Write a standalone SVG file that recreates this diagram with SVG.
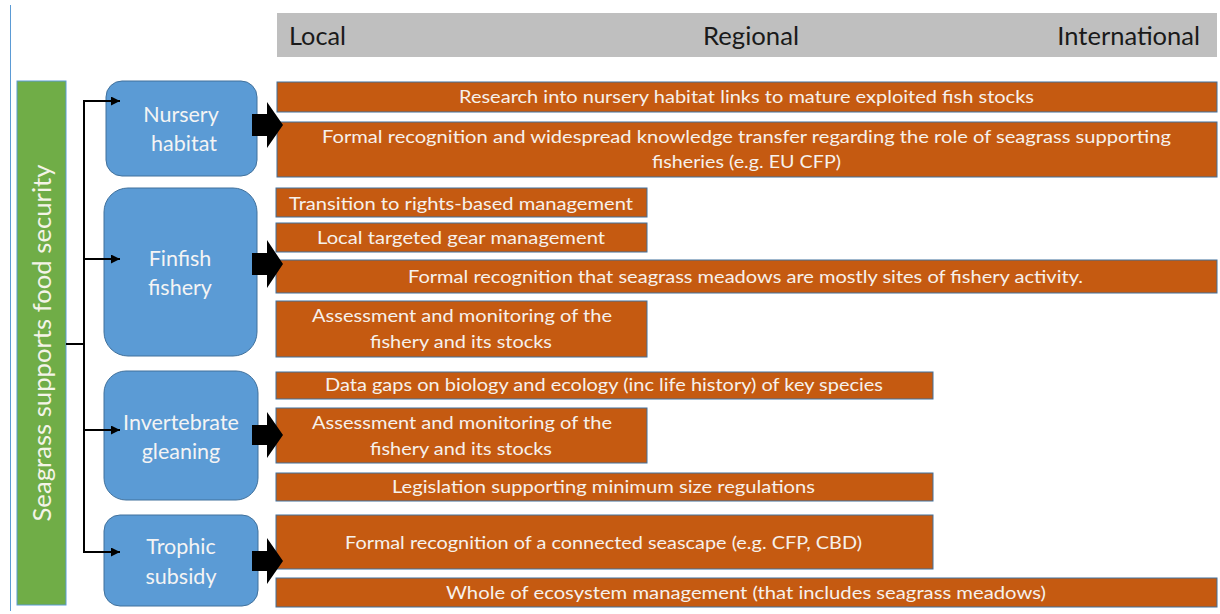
<svg xmlns="http://www.w3.org/2000/svg" width="1220" height="614" viewBox="0 0 1220 614">
<style>
.bg{fill:#ffffff}
.hdr{fill:#BFBFBF}
.htxt{font-family:Lato,"Liberation Sans",sans-serif;font-size:25.5px;fill:#1a1a1a}
.obar{fill:#C55A11;stroke:#41719C;stroke-width:1}
.otxt{font-family:Lato,"Liberation Sans",sans-serif;font-size:18px;fill:#F6F1EC;text-anchor:middle}
.bbox{fill:#5B9BD5;stroke:#41719C;stroke-width:1}
.btxt{font-family:Lato,"Liberation Sans",sans-serif;font-size:21.5px;fill:#F4F4F4;text-anchor:middle}
.gbar{fill:#70AD47;stroke:#5B9BD5;stroke-width:1}
.gtxt{font-family:Lato,"Liberation Sans",sans-serif;font-size:25px;fill:#F4F4E8;text-anchor:middle}
.conn{stroke:#000;stroke-width:2;fill:none}
.blk{fill:#000}
</style>
<defs>
<marker id="ah" viewBox="0 0 10 10" refX="10" refY="5" markerWidth="5" markerHeight="4.5" orient="auto" markerUnits="strokeWidth">
<path d="M0,0 L10,5 L0,10 z" fill="#000"/>
</marker>
</defs>
<rect class="bg" x="0" y="0" width="1220" height="614"/>
<line x1="10.5" y1="5" x2="10.5" y2="611" stroke="#5B9BD5" stroke-width="1"/>

<g id="header">
<rect class="hdr" x="277" y="13" width="940" height="44"/>
<text class="htxt" x="289" y="45" textLength="57" lengthAdjust="spacingAndGlyphs">Local</text>
<text class="htxt" x="751" y="45" text-anchor="middle" textLength="96" lengthAdjust="spacingAndGlyphs">Regional</text>
<text class="htxt" x="1200" y="45" text-anchor="end">International</text>
</g>

<g id="root">
<rect class="gbar" x="17" y="81" width="49" height="524"/>
<text class="gtxt" transform="translate(51,343) rotate(-90)" x="0" y="0" textLength="357" lengthAdjust="spacingAndGlyphs">Seagrass supports food security</text>
</g>

<g id="nursery">
<rect class="bbox" x="106" y="81" width="151" height="95" rx="16"/>
<text class="btxt" x="181" y="122">Nursery</text>
<text class="btxt" x="184" y="151">habitat</text>
</g>
<g id="finfish">
<rect class="bbox" x="104" y="188" width="153" height="168" rx="24"/>
<text class="btxt" x="180" y="266">Finfish</text>
<text class="btxt" x="180" y="295">fishery</text>
</g>
<g id="invertebrate">
<rect class="bbox" x="104" y="371" width="154" height="129" rx="22"/>
<text class="btxt" x="181" y="430">Invertebrate</text>
<text class="btxt" x="181" y="459">gleaning</text>
</g>
<g id="trophic">
<rect class="bbox" x="104" y="515" width="154" height="91" rx="16"/>
<text class="btxt" x="181" y="554">Trophic</text>
<text class="btxt" x="181" y="584">subsidy</text>
</g>

<g id="a1">
<rect class="obar" x="277" y="82" width="940" height="30"/>
<text class="otxt" x="746.5" y="103" textLength="575" lengthAdjust="spacingAndGlyphs">Research into nursery habitat links to mature exploited fish stocks</text>
</g>
<g id="a2">
<rect class="obar" x="277" y="122" width="940" height="55"/>
<text class="otxt" x="746.5" y="143" textLength="849" lengthAdjust="spacingAndGlyphs">Formal recognition and widespread knowledge transfer regarding the role of seagrass supporting</text>
<text class="otxt" x="746.5" y="168" textLength="189" lengthAdjust="spacingAndGlyphs">fisheries (e.g. EU CFP)</text>
</g>
<g id="b1">
<rect class="obar" x="276" y="188" width="371" height="29"/>
<text class="otxt" x="461" y="210" textLength="344" lengthAdjust="spacingAndGlyphs">Transition to rights-based management</text>
</g>
<g id="b2">
<rect class="obar" x="276" y="223" width="371" height="29"/>
<text class="otxt" x="461" y="244" textLength="288" lengthAdjust="spacingAndGlyphs">Local targeted gear management</text>
</g>
<g id="b3">
<rect class="obar" x="276" y="260" width="941" height="33"/>
<text class="otxt" x="745.5" y="283" textLength="675" lengthAdjust="spacingAndGlyphs">Formal recognition that seagrass meadows are mostly sites of fishery activity.</text>
</g>
<g id="b4">
<rect class="obar" x="276" y="301" width="371" height="56"/>
<text class="otxt" x="462" y="322" textLength="300" lengthAdjust="spacingAndGlyphs">Assessment and monitoring of the</text>
<text class="otxt" x="461" y="348" textLength="182" lengthAdjust="spacingAndGlyphs">fishery and its stocks</text>
</g>
<g id="c1">
<rect class="obar" x="276" y="372" width="657" height="27"/>
<text class="otxt" x="604" y="391" textLength="558" lengthAdjust="spacingAndGlyphs">Data gaps on biology and ecology (inc life history) of key species</text>
</g>
<g id="c2">
<rect class="obar" x="276" y="408" width="371" height="55"/>
<text class="otxt" x="462" y="429" textLength="300" lengthAdjust="spacingAndGlyphs">Assessment and monitoring of the</text>
<text class="otxt" x="461" y="455" textLength="182" lengthAdjust="spacingAndGlyphs">fishery and its stocks</text>
</g>
<g id="c3">
<rect class="obar" x="276" y="473" width="657" height="28"/>
<text class="otxt" x="603.5" y="493" textLength="423" lengthAdjust="spacingAndGlyphs">Legislation supporting minimum size regulations</text>
</g>
<g id="d1">
<rect class="obar" x="276" y="515" width="657" height="54"/>
<text class="otxt" x="603.5" y="549" textLength="517" lengthAdjust="spacingAndGlyphs">Formal recognition of a connected seascape (e.g. CFP, CBD)</text>
</g>
<g id="d2">
<rect class="obar" x="276" y="578" width="941" height="29"/>
<text class="otxt" x="746" y="599" textLength="600" lengthAdjust="spacingAndGlyphs">Whole of ecosystem management (that includes seagrass meadows)</text>
</g>

<g id="connectors">
<line class="conn" x1="66" y1="344" x2="84" y2="344"/>
<line class="conn" x1="84" y1="100" x2="84" y2="553"/>
<line class="conn" x1="83" y1="101" x2="120" y2="101" marker-end="url(#ah)"/>
<line class="conn" x1="83" y1="259" x2="120" y2="259" marker-end="url(#ah)"/>
<line class="conn" x1="83" y1="430" x2="120" y2="430" marker-end="url(#ah)"/>
<line class="conn" x1="83" y1="552" x2="120" y2="552" marker-end="url(#ah)"/>
<polygon class="blk" points="252,114 267,114 267,102 283,125 267,148 267,136 252,136"/>
<polygon class="blk" points="252,253 267,253 267,240 283,264 267,288 267,275 252,275"/>
<polygon class="blk" points="252,425 267,425 267,412 283,435 267,458 267,445 252,445"/>
<polygon class="blk" points="252,551 267,551 267,538 283,561 267,584 267,571 252,571"/>
</g>
</svg>
